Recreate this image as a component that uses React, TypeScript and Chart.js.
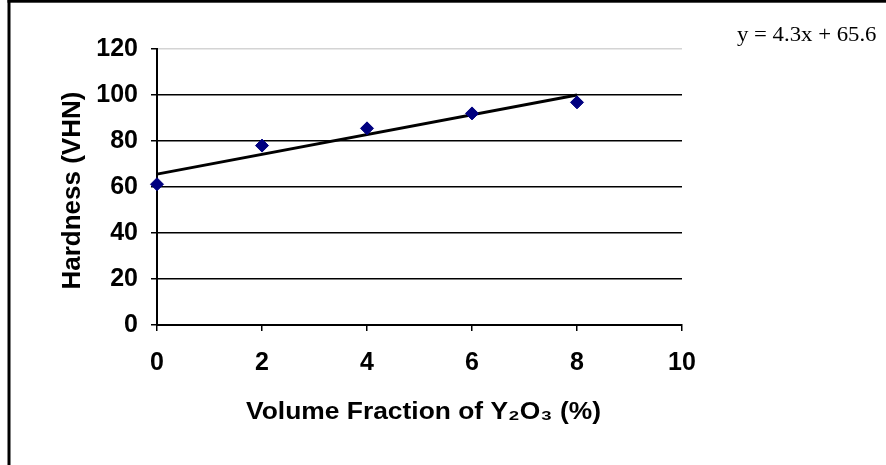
import React, { useEffect, useRef } from "react";
import { Chart, registerables } from "chart.js";

Chart.register(...registerables);

// ---- data ----
const volumeFraction = [0, 2, 4, 6, 8];
const hardness = [61.2, 78, 85.5, 92, 96.8];
const trendX = [0, 8];
const trendY = [65.6, 100];
const xTicks = [0, 2, 4, 6, 8, 10];
const yTicks = [0, 20, 40, 60, 80, 100, 120];
const equationLabel = "y = 4.3x + 65.6";
const xTitle = "Volume Fraction of Y\u2082O\u2083 (%)";
const yTitle = "Hardness (VHN) ";

const FONT = "'Liberation Sans', Arial, sans-serif";

const framePlugin = {
  id: "frame",
  afterDraw(chart: any) {
    const ctx = chart.ctx;
    const area = chart.chartArea;
    ctx.save();
    ctx.fillStyle = "#000";
    ctx.fillRect(7.5, 0, 3, 465);
    ctx.fillRect(7.5, 0, 880, 2.7);

    // trendline equation label
    ctx.font = "20px 'Liberation Serif', 'Times New Roman', serif";
    ctx.textBaseline = "alphabetic";
    ctx.textAlign = "left";
    const w = ctx.measureText(equationLabel).width;
    ctx.save();
    ctx.translate(737, 40.7);
    ctx.scale(139.5 / w, 1);
    ctx.fillText(equationLabel, 0, 0);
    ctx.restore();

    // x-axis title (slightly wide lettering as in the reference)
    ctx.font = `bold 24px ${FONT}`;
    ctx.textAlign = "center";
    ctx.textBaseline = "middle";
    ctx.save();
    ctx.translate((area.left + area.right) / 2 + 4, 412);
    ctx.scale(1.1, 1);
    ctx.fillText(xTitle, 0, 0);
    ctx.restore();
    ctx.restore();
  },
};

export default function App() {
  const ref = useRef<HTMLCanvasElement | null>(null);

  useEffect(() => {
    if (!ref.current) return;
    const chart = new Chart(ref.current, {
      type: "scatter",
      data: {
        datasets: [
          {
            label: "Hardness",
            data: volumeFraction.map((x, i) => ({ x, y: hardness[i] })),
            pointStyle: "rectRot",
            pointRadius: 6.5,
            pointHoverRadius: 6.5,
            backgroundColor: "#000080",
            borderColor: "#000080",
            borderWidth: 1,
            clip: false,
            order: 1,
          } as any,
          {
            type: "line",
            label: "Trend",
            data: trendX.map((x, i) => ({ x, y: trendY[i] })),
            showLine: true,
            borderColor: "#000",
            borderWidth: 3,
            pointRadius: 0,
            fill: false,
            clip: false,
            order: 2,
          } as any,
        ],
      },
      options: {
        animation: false,
        responsive: false,
        devicePixelRatio: 1,
        layout: { padding: { left: 0, top: 49, right: 204, bottom: 0 } },
        plugins: {
          legend: { display: false },
          tooltip: { enabled: false },
        },
        scales: {
          x: {
            type: "linear",
            min: 0,
            max: 10,
            afterBuildTicks: (scale: any) => {
              scale.ticks = xTicks.map((v) => ({ value: v }));
            },
            afterFit: (scale: any) => {
              scale.height = 140;
            },
            ticks: {
              color: "#000",
              padding: 17,
              font: { family: FONT, size: 25, weight: "bold" },
            },
            grid: {
              drawOnChartArea: false,
              drawTicks: true,
              tickLength: 6,
              color: "#000",
              lineWidth: 1.5,
            },
            border: { display: true, color: "#000", width: 2 },
            title: { display: false, text: xTitle },
          },
          y: {
            type: "linear",
            min: 0,
            max: 120,
            afterBuildTicks: (scale: any) => {
              scale.ticks = yTicks.map((v) => ({ value: v }));
            },
            afterFit: (scale: any) => {
              scale.width = 157;
            },
            ticks: {
              color: "#000",
              padding: 13,
              font: { family: FONT, size: 25, weight: "bold" },
            },
            grid: {
              drawOnChartArea: true,
              drawTicks: true,
              tickLength: 6,
              color: (c: any) => (c.tick && c.tick.value === 120 ? "#d4d4d4" : "#000"),
              tickColor: "#000",
              lineWidth: 1.5,
            },
            border: { display: true, color: "#000", width: 2 },
            title: {
              display: true,
              text: yTitle,
              color: "#000",
              font: { family: FONT, size: 26, weight: "bold" },
              padding: { top: 57, bottom: 0 },
            },
          },
        },
      },
      plugins: [framePlugin],
    });
    return () => chart.destroy();
  }, []);

  return (
    <div style={{ position: "fixed", left: 0, top: 0, width: 886, height: 465, background: "#fff" }}>
      <canvas ref={ref} width={886} height={465} style={{ display: "block", width: 886, height: 465 }} />
    </div>
  );
}
